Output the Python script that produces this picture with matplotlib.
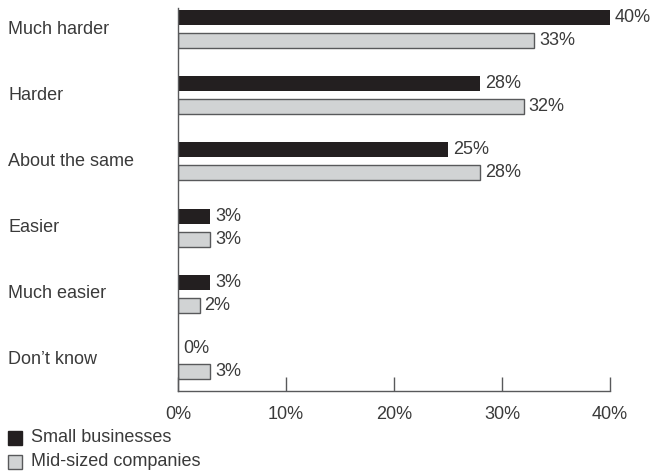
import matplotlib
matplotlib.use('Agg')
import matplotlib.pyplot as plt
import numpy as np

categories = ['Much harder', 'Harder', 'About the same', 'Easier', 'Much easier', 'Don\u2019t know']
small = [40, 28, 25, 3, 3, 0]
mid = [33, 32, 28, 3, 2, 3]
ticks = [0, 10, 20, 30, 40]

plt.rcParams['font.family'] = ['Liberation Sans', 'DejaVu Sans']
txt = '#3a3a3a'
fs = 13

fig = plt.figure(figsize=(6.57, 4.74), dpi=100)
ax = fig.add_axes([178 / 657, 1 - 391 / 474, 432 / 657, 383 / 474])

y = np.arange(len(categories))
h = 0.227
off = 0.174
ax.barh(y - off, small, height=h, color='#231f20', edgecolor='none')
ax.barh(y + off, mid, height=h, color='#d1d3d4', edgecolor='#58595b', linewidth=1)

for i in range(len(categories)):
    ax.text(small[i] + 0.45, y[i] - off, f'{small[i]}%', va='center', ha='left', fontsize=fs, color=txt)
    ax.text(mid[i] + 0.45, y[i] + off, f'{mid[i]}%', va='center', ha='left', fontsize=fs, color=txt)
    fig.text(8 / 657, 1 - (29 + 66 * i) / 474, categories[i], va='center', ha='left', fontsize=fs, color=txt)

ax.set_xlim(0, 40)
ax.set_ylim(5.47, -0.32)
ax.set_yticks([])
ax.set_xticks(ticks)
ax.set_xticklabels([f'{t}%' for t in ticks], fontsize=fs, color=txt)
ax.tick_params(axis='x', direction='in', length=10, width=1, color='#58595b', pad=11)
for s in ['top', 'right']:
    ax.spines[s].set_visible(False)
for s in ['left', 'bottom']:
    ax.spines[s].set_color('#58595b')
    ax.spines[s].set_linewidth(1)

# legend
lax = fig.add_axes([0, 0, 1, 1])
lax.set_xlim(0, 657)
lax.set_ylim(474, 0)
lax.axis('off')
lax.add_patch(plt.Rectangle((8, 431), 14, 14, facecolor='#231f20', edgecolor='#231f20'))
lax.add_patch(plt.Rectangle((8, 455), 14, 14, facecolor='#d1d3d4', edgecolor='#58595b'))
lax.text(31, 438, 'Small businesses', va='center', ha='left', fontsize=fs, color=txt)
lax.text(31, 462, 'Mid-sized companies', va='center', ha='left', fontsize=fs, color=txt)

fig.savefig('out.png', dpi=100)
